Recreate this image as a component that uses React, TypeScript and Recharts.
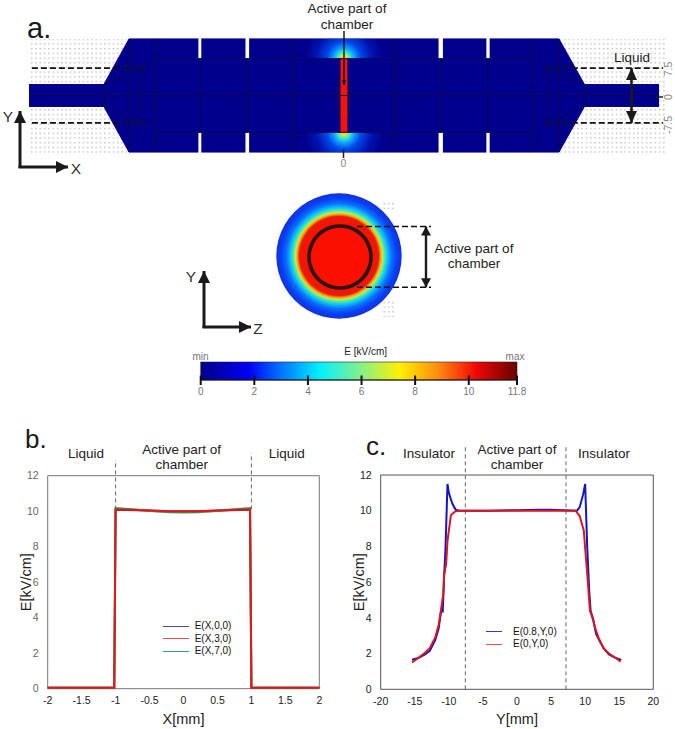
import React from 'react';
import {
  ComposedChart, LineChart, Line, Area, XAxis, YAxis, ReferenceArea, ReferenceLine,
  PieChart, Pie, Legend,
} from 'recharts';

const FONT = '"Liberation Sans", Arial, sans-serif';

/* ---------- panel b ---------- */
const bX = [-2, -1.5, -1.02, -1, -0.7, -0.4, -0.2, 0, 0.2, 0.4, 0.7, 0.98, 1.0, 1.5, 2];
const bY0 = [0.05, 0.05, 0.05, 10.08, 10.06, 10.02, 10.0, 10.0, 10.0, 10.03, 10.06, 10.08, 0.05, 0.05, 0.05];
const bY3 = [0.05, 0.05, 0.05, 10.1, 10.07, 10.02, 10.0, 10.0, 10.0, 10.03, 10.07, 10.1, 0.05, 0.05, 0.05];
const bY7 = [0.05, 0.05, 0.05, 10.18, 10.1, 9.98, 9.94, 9.92, 9.94, 9.98, 10.1, 10.18, 0.05, 0.05, 0.05];
const bXTicks = [-2, -1.5, -1, -0.5, 0, 0.5, 1, 1.5, 2];
const yTicks = [0, 2, 4, 6, 8, 10, 12];
const bLegend = [
  { name: 'E(X,0,0)', color: '#4a4ab8' },
  { name: 'E(X,3,0)', color: '#e8504a' },
  { name: 'E(X,7,0)', color: '#3f9f68' },
];

/* ---------- panel c ---------- */
const cBlueX = [-15.4, -14.5, -13.5, -12.8, -12, -11.5, -11.2, -11, -10.9, -10.7, -10.5, -10.2, -10, -9.5, -9, -8.5, -4, 0, 3, 5, 8.8, 9.2, 9.7, 10, 10.3, 10.6, 10.8, 11.2, 11.6, 12, 12.7, 13.5, 14.5, 15.3];
const cBlueY = [1.65, 1.75, 1.95, 2.15, 2.75, 3.4, 4.2, 4.6, 4.3, 6.3, 7.8, 11.5, 11, 10.4, 10.05, 10, 10, 10.03, 10.05, 10.05, 10, 10.2, 10.9, 11.5, 8, 5.5, 4.4, 3.9, 3.1, 2.8, 2.3, 1.95, 1.75, 1.65];
const cRedX = [-15.4, -14.5, -13.5, -12.8, -12, -11.5, -11.1, -10.8, -10.7, -10.4, -10.2, -9.7, -9.1, -8.5, 8.6, 9.2, 9.8, 10, 10.4, 10.7, 11, 11.5, 12, 12.7, 13.5, 14.5, 15.2];
const cRedY = [1.5, 1.75, 2.05, 2.3, 2.9, 3.6, 4.6, 5.4, 6.4, 7, 8.3, 9.75, 9.95, 10, 10, 9.7, 8.9, 7.9, 6, 4.4, 4.1, 3.4, 2.85, 2.3, 2, 1.75, 1.55];
const cXTicks = [-20, -15, -10, -5, 0, 5, 10, 15, 20];
const cLegend = [
  { name: 'E(0.8,Y,0)', color: '#3c3cb4' },
  { name: 'E(0,Y,0)', color: '#e8504a' },
];

/* ---------- panel a: chamber geometry in mm ---------- */
const outlineX = [-86.3, -65.8, -58.9, 58.9, 65.9, 86.3];
const outlineHalf = [3, 3, 15.5, 15.5, 3, 3];
const gapEdges: [number, number][] = [[-39.9, -39.1], [-27, -26], [25.9, 27.1], [39, 39.9]];
const meshSegments: number[][] = [
  [-86.3, 0, 86.3, 0],
  [-51.9, 10.1, 51.9, 10.1], [-51.9, -10.1, 51.9, -10.1],
  [-58.9, 15.5, -58.9, -15.5], [58.9, 15.5, 58.9, -15.5],
  [-51.9, 15.5, -51.9, -15.5], [51.9, 15.5, 51.9, -15.5],
  [-14, 15.5, -14, -15.5], [14, 15.5, 14, -15.5],
  [-39.5, 10.1, -39.5, -10.1], [39.5, 10.1, 39.5, -10.1],
  [-26.5, 10.1, -26.5, -10.1], [26.5, 10.1, 26.5, -10.1],
  [-65.8, 3, -65.8, -3], [65.9, 3, 65.9, -3],
  [-55.9, 7.5, -55.9, -7.5], [55.9, 7.5, 55.9, -7.5],
  [-65.8, 3, -55.9, 7.5], [-65.8, -3, -55.9, -7.5],
  [65.9, 3, 55.9, 7.5], [65.9, -3, 55.9, -7.5],
];
const dashedSegments: number[][] = [
  [-85.5, 7.5, -53.5, 7.5], [-85.5, -7.5, -53.5, -7.5],
  [55, 7.5, 87.4, 7.5], [55, -7.5, 87.4, -7.5],
];
const A_X_DOMAIN = [-94.25, 90.68];
const A_Y_DOMAIN = [-25.89, 26.16];

/* ---------- colour bar ---------- */
const barTicks = [0, 2, 4, 6, 8, 10, 11.8];

const rows = (xs: number[], ys: number[]) => xs.map((x, i) => ({ x, y: ys[i] }));

const GlowStops = () => (
  <>
    <stop offset="0" stopColor="#f0d020" />
    <stop offset="0.08" stopColor="#d8e040" />
    <stop offset="0.16" stopColor="#30e8d0" />
    <stop offset="0.26" stopColor="#10a0ff" />
    <stop offset="0.42" stopColor="#0048e8" />
    <stop offset="0.7" stopColor="#0012b0" />
    <stop offset="1" stopColor="#00008c" />
  </>
);

function Defs() {
  return (
    <svg width={0} height={0} style={{ position: 'absolute' }}>
      <defs>
        <pattern id="dots" width={4.3} height={4.7} patternUnits="userSpaceOnUse">
          <rect x={1} y={1} width={1.3} height={1.3} fill="#b4b4b4" />
        </pattern>
        <pattern id="hatch" width={3} height={3} patternUnits="userSpaceOnUse">
          <rect x={0.5} y={0.5} width={1.6} height={1.6} fill="#151530" />
        </pattern>
        <radialGradient id="glowTop" gradientUnits="userSpaceOnUse" cx={344} cy={58.5} r={40}>
          <GlowStops />
        </radialGradient>
        <radialGradient id="glowBottom" gradientUnits="userSpaceOnUse" cx={344} cy={132.5} r={40}>
          <GlowStops />
        </radialGradient>
        <radialGradient id="disc" cx="0.5" cy="0.5" r="0.5" fx="0.5" fy="0.5">
          <stop offset="0" stopColor="#fb0f00" />
          <stop offset="0.5" stopColor="#fb0f00" />
          <stop offset="0.63" stopColor="#ea1a08" />
          <stop offset="0.665" stopColor="#f5a010" />
          <stop offset="0.695" stopColor="#c8e840" />
          <stop offset="0.735" stopColor="#30e8c8" />
          <stop offset="0.775" stopColor="#10c0f0" />
          <stop offset="0.84" stopColor="#0a70ff" />
          <stop offset="0.92" stopColor="#0a40f0" />
          <stop offset="1" stopColor="#1030e0" />
        </radialGradient>
        <linearGradient id="jet" x1="0" x2="1" y1="0" y2="0">
          <stop offset="0" stopColor="#00008c" />
          <stop offset="0.15" stopColor="#0000f0" />
          <stop offset="0.25" stopColor="#0070ff" />
          <stop offset="0.375" stopColor="#00f0ff" />
          <stop offset="0.5" stopColor="#80f090" />
          <stop offset="0.63" stopColor="#fff000" />
          <stop offset="0.75" stopColor="#ff8c10" />
          <stop offset="0.87" stopColor="#f00808" />
          <stop offset="1" stopColor="#6a0000" />
        </linearGradient>
      </defs>
    </svg>
  );
}

function PanelA() {
  const toSeg = (s: number[]) => [{ x: s[0], y: s[1] }, { x: s[2], y: s[3] }] as any;
  const outline = outlineX.map((x, i) => ({ x, range: [-outlineHalf[i], outlineHalf[i]] }));
  return (
    <div style={{ position: 'absolute', left: 0, top: 0 }}>
      <ComposedChart width={675} height={190} data={outline} margin={{ top: 0, right: 0, bottom: 0, left: 0 }}>
        <XAxis dataKey="x" type="number" domain={A_X_DOMAIN} allowDataOverflow hide />
        <YAxis type="number" domain={A_Y_DOMAIN} allowDataOverflow hide />
        <ReferenceArea x1={-86.3} x2={-58.9} y1={-15.8} y2={15.5} fill="url(#dots)" fillOpacity={1} stroke="none" />
        <ReferenceArea x1={58.9} x2={88.5} y1={-15.8} y2={15.5} fill="url(#dots)" fillOpacity={1} stroke="none" />
        <Area dataKey="range" type="linear" stroke="#00008c" strokeWidth={1} fill="#00008c" fillOpacity={1} dot={false} activeDot={false} isAnimationActive={false} />
        <ReferenceArea x1={-14} x2={14} y1={10.1} y2={15.5} fill="url(#glowTop)" fillOpacity={1} stroke="none" />
        <ReferenceArea x1={-14} x2={14} y1={-15.5} y2={-10.1} fill="url(#glowBottom)" fillOpacity={1} stroke="none" />
        {meshSegments.map((s, i) => (
          <ReferenceLine key={i} segment={toSeg(s)} stroke="#0a0a50" strokeWidth={1} />
        ))}
        {gapEdges.map(([a, b], i) => (
          <ReferenceArea key={'t' + i} x1={a} x2={b} y1={10.1} y2={15.9} fill="#fff" fillOpacity={1} stroke="none" />
        ))}
        {gapEdges.map(([a, b], i) => (
          <ReferenceArea key={'b' + i} x1={a} x2={b} y1={-15.9} y2={-10.1} fill="#fff" fillOpacity={1} stroke="none" />
        ))}
        <ReferenceArea x1={-1.9} x2={-0.96} y1={-6.2} y2={5} fill="url(#hatch)" fillOpacity={1} stroke="none" />
        <ReferenceArea x1={0.93} x2={2} y1={-6.2} y2={5} fill="url(#hatch)" fillOpacity={1} stroke="none" />
        <ReferenceArea x1={-0.96} x2={0.93} y1={-10.1} y2={10.1} fill="#f41400" fillOpacity={1} stroke="none" />
        <ReferenceLine segment={toSeg([-1.2, 0, 1.2, 0])} stroke="#300" strokeWidth={1} />
        {dashedSegments.map((s, i) => (
          <ReferenceLine key={'d' + i} segment={toSeg(s)} stroke="#111" strokeWidth={1.6} strokeDasharray="6 3" />
        ))}
      </ComposedChart>
    </div>
  );
}

function Disc() {
  const data = [{ name: 'chamber', value: 1 }];
  return (
    <div style={{ position: 'absolute', left: 269, top: 186 }}>
      <PieChart width={140} height={140} margin={{ top: 0, right: 0, bottom: 0, left: 0 }}>
        <Pie data={data} dataKey="value" cx={70} cy={70} innerRadius={0} outerRadius={62.7} startAngle={0} endAngle={360} fill="url(#disc)" stroke="none" isAnimationActive={false} />
        <Pie data={data} dataKey="value" cx={71} cy={71} innerRadius={29.2} outerRadius={32.8} startAngle={0} endAngle={360} fill="#2a1414" stroke="none" isAnimationActive={false} />
      </PieChart>
    </div>
  );
}

function ColorBar() {
  const data = barTicks.map((x) => ({ x, y: 0.5 }));
  return (
    <div style={{ position: 'absolute', left: 180, top: 350 }}>
      <LineChart width={360} height={50} data={data} margin={{ top: 12, right: 23, bottom: 0, left: 20.7 }}>
        <XAxis
          dataKey="x" type="number" domain={[0, 11.8]} ticks={barTicks} height={20} tickSize={5}
          tickLine={{ stroke: '#111', strokeWidth: 2 }} axisLine={{ stroke: '#111' }} interval={0}
          tick={{ fontSize: 10, fill: '#777', fontFamily: FONT }} tickMargin={3}
        />
        <YAxis type="number" domain={[0, 1]} hide />
        <ReferenceArea x1={0} x2={11.8} y1={0} y2={1} fill="url(#jet)" fillOpacity={1} stroke="#222" strokeWidth={0.6} />
        {barTicks.map((t) => (
          <ReferenceLine key={t} segment={[{ x: t, y: 0 }, { x: t, y: 0.25 }]} stroke="#111" strokeWidth={2} />
        ))}
        <Line dataKey="y" stroke="none" dot={false} activeDot={false} isAnimationActive={false} />
      </LineChart>
    </div>
  );
}

function LegendBlock({ items, lineW, gap, textGap, fontSize }: any) {
  return (
    <div style={{ fontFamily: FONT, fontSize, color: '#111', lineHeight: `${gap}px` }}>
      {items.map((it: any) => (
        <div key={it.name} style={{ display: 'flex', alignItems: 'center', height: gap, whiteSpace: 'nowrap' }}>
          <span style={{ display: 'inline-block', width: lineW, height: 1, background: it.color, marginRight: textGap }} />
          <span>{it.name}</span>
        </div>
      ))}
    </div>
  );
}

function PanelB() {
  const tick = { fontFamily: FONT, fontSize: 10.5 };
  return (
    <div style={{ position: 'absolute', left: 0, top: 440 }}>
      <LineChart width={340} height={289} margin={{ top: 35.7, right: 20.7, bottom: 0, left: 17.7 }}>
        <XAxis
          dataKey="x" type="number" domain={[-2, 2]} ticks={bXTicks} interval={0} allowDuplicatedCategory={false} height={40.3}
          tick={{ ...tick, fill: '#222' }} tickLine={false} axisLine={false} tickMargin={2}
          label={{ value: 'X[mm]', position: 'insideBottom', offset: 5, style: { fontFamily: FONT, fontSize: 14.5, fill: '#222' } }}
        />
        <YAxis
          type="number" domain={[0, 12]} ticks={yTicks} interval={0} width={30}
          tick={{ ...tick, fill: '#666' }} tickLine={false} axisLine={false} tickMargin={3}
          label={{ value: 'E[kV/cm]', angle: -90, position: 'insideLeft', offset: 8, style: { textAnchor: 'middle', fontFamily: FONT, fontSize: 14.5, fill: '#222' } }}
        />
        <ReferenceArea x1={-2} x2={2} y1={0} y2={12} fill="none" stroke="#777" strokeWidth={1} />
        <ReferenceLine segment={[{ x: -1, y: 10.1 }, { x: -1, y: 12.88 }]} ifOverflow="visible" stroke="#666" strokeDasharray="4 3" />
        <ReferenceLine segment={[{ x: 1, y: 10.1 }, { x: 1, y: 13.28 }]} ifOverflow="visible" stroke="#666" strokeDasharray="4 3" />
        <Line data={rows(bX, bY0)} dataKey="y" name={bLegend[0].name} stroke="#3c3cb4" strokeWidth={2} dot={false} isAnimationActive={false} />
        <Line data={rows(bX, bY7)} dataKey="y" name={bLegend[2].name} stroke="#2f9a58" strokeWidth={2} dot={false} isAnimationActive={false} />
        <Line data={rows(bX, bY3)} dataKey="y" name={bLegend[1].name} stroke="#e8140f" strokeWidth={2} dot={false} isAnimationActive={false} />
        <Legend
          layout="vertical" align="center" verticalAlign="middle"
          wrapperStyle={{ position: 'absolute', left: 162.7, top: 180, width: 100, height: 40 }}
          content={() => <LegendBlock items={bLegend} lineW={26} gap={12.5} textGap={6} fontSize={10} />}
        />
      </LineChart>
    </div>
  );
}

function PanelC() {
  const tick = { fontFamily: FONT, fontSize: 10.5, fill: '#222' };
  return (
    <div style={{ position: 'absolute', left: 340, top: 440 }}>
      <LineChart width={335} height={289} margin={{ top: 35, right: 21.7, bottom: 0, left: 12.7 }}>
        <XAxis
          dataKey="x" type="number" domain={[-20, 20]} ticks={cXTicks} interval={0} allowDuplicatedCategory={false} height={39.7}
          tick={tick} tickLine={false} axisLine={false} tickMargin={2}
          label={{ value: 'Y[mm]', position: 'insideBottom', offset: 5, style: { fontFamily: FONT, fontSize: 14.5, fill: '#222' } }}
        />
        <YAxis
          type="number" domain={[0, 12]} ticks={yTicks} interval={0} width={28}
          tick={tick} tickLine={false} axisLine={false} tickMargin={3}
          label={{ value: 'E[kV/cm]', angle: -90, position: 'insideLeft', offset: 6, style: { textAnchor: 'middle', fontFamily: FONT, fontSize: 14.5, fill: '#222' } }}
        />
        <ReferenceArea x1={-20} x2={20} y1={0} y2={12} fill="none" stroke="#555" strokeWidth={1} />
        <ReferenceLine segment={[{ x: -7.58, y: 0 }, { x: -7.58, y: 13.6 }]} ifOverflow="visible" stroke="#666" strokeDasharray="4 3" />
        <ReferenceLine segment={[{ x: 7.19, y: 0 }, { x: 7.19, y: 13.6 }]} ifOverflow="visible" stroke="#666" strokeDasharray="4 3" />
        <Line data={rows(cBlueX, cBlueY)} dataKey="y" name={cLegend[0].name} stroke="#1414c8" strokeWidth={2} dot={false} isAnimationActive={false} />
        <Line data={rows(cRedX, cRedY)} dataKey="y" name={cLegend[1].name} stroke="#d8181c" strokeWidth={2} dot={false} isAnimationActive={false} />
        <Legend
          layout="vertical" align="center" verticalAlign="middle"
          wrapperStyle={{ position: 'absolute', left: 146, top: 185.5, width: 110, height: 28 }}
          content={() => <LegendBlock items={cLegend} lineW={16} gap={12.5} textGap={11} fontSize={10} />}
        />
      </LineChart>
    </div>
  );
}

function Arrow({ x1, y1, x2, y2, w = 3, head = 12, hw = 6, both = false, color = '#1a1a1a' }: any) {
  const d = Math.hypot(x2 - x1, y2 - y1);
  const ux = (x2 - x1) / d;
  const uy = (y2 - y1) / d;
  const tip = (x: number, y: number, dx: number, dy: number) =>
    `${x},${y} ${x - dx * head - dy * hw},${y - dy * head + dx * hw} ${x - dx * head + dy * hw},${y - dy * head - dx * hw}`;
  return (
    <g>
      <line x1={x1} y1={y1} x2={x2} y2={y2} stroke={color} strokeWidth={w} />
      <polygon points={tip(x2, y2, ux, uy)} fill={color} />
      {both && <polygon points={tip(x1, y1, -ux, -uy)} fill={color} />}
    </g>
  );
}

function T({ x, y, s = 13.5, c = '#222', a = 'middle', r, w, children }: any) {
  return (
    <text
      x={x} y={y} fontSize={s} fill={c} textAnchor={a} fontWeight={w} fontFamily={FONT} dominantBaseline="central"
      transform={r ? `rotate(${r} ${x} ${y})` : undefined}
    >
      {children}
    </text>
  );
}

function Overlay() {
  return (
    <svg width={675} height={729} style={{ position: 'absolute', left: 0, top: 0, pointerEvents: 'none' }}>
      <rect x={383} y={200} width={11} height={9} fill="url(#dots)" />
      <rect x={383} y={299} width={11} height={18} fill="url(#dots)" />

      <text x={27} y={38} fontSize={29} fill="#1a1a1a" fontFamily={FONT}>a.</text>
      <T x={347} y={8}>Active part of</T>
      <T x={347} y={24}>chamber</T>
      <Arrow x1={344} y1={31} x2={344} y2={85} w={1.4} head={5} hw={2} color="#111" />
      <T x={632} y={57}>Liquid</T>
      <Arrow x1={631.5} y1={68} x2={631.5} y2={123} w={2.6} head={12} hw={5.5} both />
      <T x={668} y={69} s={10.5} c="#888" r={-90}>7.5</T>
      <T x={668} y={97} s={10.5} c="#888" r={-90}>0</T>
      <T x={668} y={125} s={10.5} c="#888" r={-90}>-7.5</T>
      <line x1={656} y1={97} x2={663} y2={97} stroke="#222" strokeWidth={1.5} />
      <line x1={343.5} y1={149} x2={343.5} y2={158} stroke="#222" strokeWidth={1.5} />
      <T x={343.5} y={163} s={10.5} c="#888">0</T>
      <Arrow x1={20} y1={168} x2={20} y2={111} />
      <Arrow x1={18.5} y1={167} x2={68} y2={167} />
      <T x={8} y={116} s={15.5} c="#333">Y</T>
      <T x={76} y={168} s={15.5} c="#333">X</T>

      <T x={474} y={248}>Active part of</T>
      <T x={474} y={263.5}>chamber</T>
      <line x1={357} y1={226.5} x2={431} y2={226.5} stroke="#111" strokeWidth={1.6} strokeDasharray="6 3" />
      <line x1={357} y1={287.3} x2={431} y2={287.3} stroke="#111" strokeWidth={1.6} strokeDasharray="6 3" />
      <Arrow x1={426} y1={226.5} x2={426} y2={287.3} w={2.4} head={9} hw={5} both />
      <Arrow x1={204} y1={328} x2={204} y2={271} />
      <Arrow x1={202.5} y1={327} x2={251} y2={327} />
      <T x={191} y={276} s={15.5} c="#333">Y</T>
      <T x={258} y={328} s={15.5} c="#333">Z</T>

      <T x={200.5} y={356} s={10} c="#777">min</T>
      <T x={515} y={356} s={10} c="#777">max</T>
      <T x={365.7} y={351.5} s={10} c="#222">E [kV/cm]</T>

      <text x={25} y={448} fontSize={26} fill="#1a1a1a" fontFamily={FONT}>b.</text>
      <T x={86} y={453}>Liquid</T>
      <T x={181.7} y={449}>Active part of</T>
      <T x={181.7} y={464.5}>chamber</T>
      <T x={286.7} y={453}>Liquid</T>

      <text x={366} y={455} fontSize={26} fill="#1a1a1a" fontFamily={FONT}>c.</text>
      <T x={429} y={453}>Insulator</T>
      <T x={517} y={449}>Active part of</T>
      <T x={517} y={464.5}>chamber</T>
      <T x={604} y={453}>Insulator</T>
    </svg>
  );
}

export default function App() {
  return (
    <div style={{ position: 'absolute', left: 0, top: 0, width: 675, height: 729, background: '#fff', overflow: 'hidden', fontFamily: FONT }}>
      <Defs />
      <PanelA />
      <Disc />
      <ColorBar />
      <PanelB />
      <PanelC />
      <Overlay />
    </div>
  );
}
